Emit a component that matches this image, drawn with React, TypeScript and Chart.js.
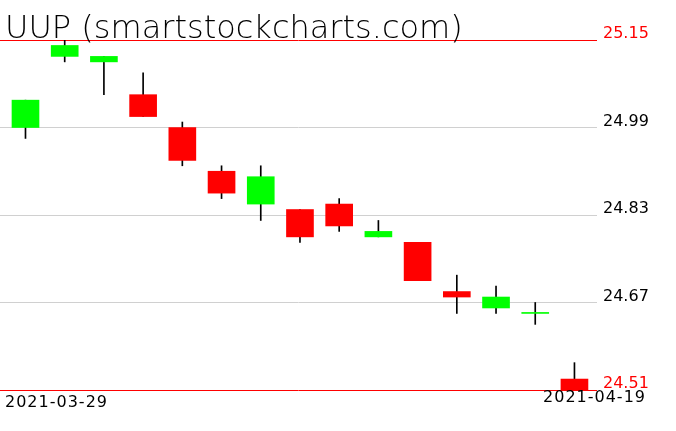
import React, { useEffect, useRef } from "react";
import { Chart, registerables } from "chart.js";

Chart.register(...registerables);

const titleText = "UUP (smartstockcharts.com)";
const dates = [
  "2021-03-29", "2021-03-30", "2021-03-31", "2021-04-01", "2021-04-05",
  "2021-04-06", "2021-04-07", "2021-04-08", "2021-04-09", "2021-04-12",
  "2021-04-13", "2021-04-14", "2021-04-15", "2021-04-16", "2021-04-19",
];
const opens = [24.99, 25.12, 25.11, 25.05, 24.99, 24.91, 24.85, 24.84, 24.85, 24.79, 24.78, 24.69, 24.66, 24.65, 24.53];
const highs = [25.04, 25.15, 25.12, 25.09, 25.0, 24.92, 24.92, 24.84, 24.86, 24.82, 24.78, 24.72, 24.7, 24.67, 24.56];
const lows = [24.97, 25.11, 25.05, 25.01, 24.92, 24.86, 24.82, 24.78, 24.8, 24.79, 24.71, 24.65, 24.65, 24.63, 24.51];
const closes = [25.04, 25.14, 25.12, 25.01, 24.93, 24.87, 24.9, 24.79, 24.81, 24.8, 24.71, 24.68, 24.68, 24.65, 24.51];
const yTicks = [24.51, 24.67, 24.83, 24.99, 25.15];
const highlightTicks = [24.51, 25.15];
const edgeDateLabels = [dates[0], dates[dates.length - 1]];

const GREEN = "#00ff00";
const RED = "#ff0000";
const GRID = "#d0d0d0";

const isHighlight = (v: number) => highlightTicks.some((h) => Math.abs(h - v) < 1e-6);

const textPlugin = {
  id: "textPlugin",
  afterDraw(chart: any) {
    const ctx = chart.ctx as CanvasRenderingContext2D;
    ctx.save();
    ctx.fillStyle = "#000000";
    ctx.font = '200 32px "DejaVu Sans"';
    ctx.textAlign = "left";
    ctx.textBaseline = "alphabetic";
    ctx.fillText(titleText, 5, 38);
    ctx.font = '16px "DejaVu Sans"';
    (ctx as any).letterSpacing = "1px";
    ctx.textAlign = "left";
    ctx.fillText(edgeDateLabels[0], 5, 407);
    ctx.textAlign = "right";
    ctx.fillText(edgeDateLabels[1], 646, 402);
    ctx.restore();
  },
};

export default function App() {
  const ref = useRef<HTMLCanvasElement | null>(null);
  useEffect(() => {
    if (!ref.current) return;
    const bodies = dates.map((_, i) => ({ x: i, y: [opens[i], closes[i]] }));
    const wicks = dates.map((_, i) => ({ x: i, y: [lows[i], highs[i]] }));
    const bodyColors = dates.map((_, i) => (closes[i] >= opens[i] ? GREEN : RED));
    const chart = new Chart(ref.current, {
      type: "bar",
      data: {
        datasets: [
          {
            label: "body",
            data: bodies as any,
            backgroundColor: bodyColors,
            borderWidth: 0,
            barThickness: 27,
            minBarLength: 1,
            grouped: false,
            order: 0,
          } as any,
          {
            label: "wick",
            data: wicks as any,
            backgroundColor: "#000000",
            borderWidth: 0,
            barThickness: 1,
            grouped: false,
            order: 1,
          } as any,
        ],
      },
      plugins: [textPlugin],
      options: {
        animation: false,
        responsive: false,
        devicePixelRatio: 1,
        layout: { padding: { top: 40, bottom: 41, left: 0, right: 0 } },
        plugins: { legend: { display: false }, tooltip: { enabled: false }, title: { display: false } },
        scales: {
          x: {
            type: "linear",
            min: -0.65,
            max: 14.575,
            display: false,
            offset: false,
          },
          y: {
            position: "right",
            min: 24.51,
            max: 25.15,
            afterBuildTicks: (scale: any) => {
              scale.ticks = yTicks.map((v) => ({ value: v }));
            },
            afterFit: (scale: any) => {
              scale.width = 79;
            },
            border: { display: false },
            grid: {
              drawTicks: false,
              color: (c: any) => (isHighlight(c.tick.value) ? RED : GRID),
              lineWidth: 1,
            },
            ticks: {
              padding: 6,
              labelOffset: -6,
              font: { family: "DejaVu Sans", size: 16 },
              color: (c: any) => (isHighlight(c.tick.value) ? RED : "#000000"),
              callback: (v: any) => Number(v).toFixed(2),
            },
          },
        },
      } as any,
    });
    return () => chart.destroy();
  }, []);
  return (
    <div style={{ position: "fixed", left: 0, top: 0, width: 676, height: 431, background: "#fff" }}>
      <canvas ref={ref} width={676} height={431} style={{ display: "block" }} />
    </div>
  );
}
